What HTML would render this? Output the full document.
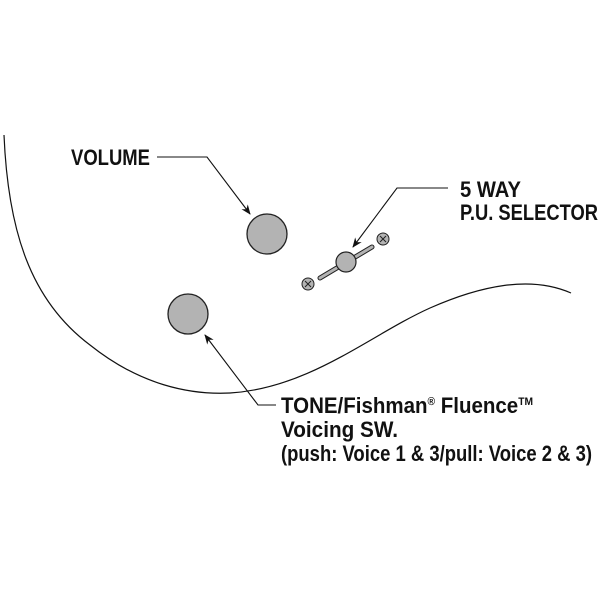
<!DOCTYPE html>
<html><head><style>
body{margin:0;background:#fff;}
svg{display:block}
text{font-family:"Liberation Sans",sans-serif;font-weight:bold;fill:#111;}
</style></head><body>
<svg width="600" height="600" viewBox="0 0 600 600" xmlns="http://www.w3.org/2000/svg">
<defs><marker id="a" markerWidth="10" markerHeight="8" refX="9" refY="4" orient="auto" markerUnits="userSpaceOnUse"><path d="M0,0 L10,4 L0,8 L3,4 Z" fill="#111"/></marker></defs>
<path d="M4,135 C8,230 30,300 90,345 C140,385 190,395 230,393 C310,388 370,335 430,308 C480,286 530,275 571,293" fill="none" stroke="#111" stroke-width="1.2"/>
<circle cx="267" cy="234" r="20" fill="#b3b3b3" stroke="#222" stroke-width="1.3"/>
<circle cx="188" cy="314" r="20" fill="#b3b3b3" stroke="#222" stroke-width="1.3"/>
<line x1="320" y1="278" x2="372" y2="247" stroke="#222" stroke-width="5" stroke-linecap="round"/>
<line x1="320" y1="278" x2="372" y2="247" stroke="#b3b3b3" stroke-width="3" stroke-linecap="round"/>
<circle cx="346" cy="262" r="10" fill="#b3b3b3" stroke="#222" stroke-width="1.2"/>
<g stroke="#222" stroke-width="1"><circle cx="308" cy="284" r="6" fill="#b3b3b3"/><path d="M305,281 l6,6 M311,281 l-6,6"/>
<circle cx="383" cy="239" r="6" fill="#b3b3b3"/><path d="M380,236 l6,6 M386,236 l-6,6"/></g>
<g fill="none" stroke="#111" stroke-width="1.1">
<path d="M157,157 H207 L250,214" marker-end="url(#a)"/>
<path d="M448,188 H397 L353,247" marker-end="url(#a)"/>
<path d="M276,405 H258 L205,335" marker-end="url(#a)"/>
</g>
<text x="71" y="165" font-size="22" textLength="79" lengthAdjust="spacingAndGlyphs">VOLUME</text>
<text x="460" y="197" font-size="22" textLength="61" lengthAdjust="spacingAndGlyphs">5 WAY</text>
<text x="460" y="220" font-size="22" textLength="138" lengthAdjust="spacingAndGlyphs">P.U. SELECTOR</text>
<text x="281" y="413" font-size="22" textLength="252" lengthAdjust="spacingAndGlyphs">TONE/Fishman<tspan font-size="11" dy="-8">®</tspan><tspan dy="8"> Fluence</tspan><tspan font-size="11" dy="-8">TM</tspan></text>
<text x="281" y="437" font-size="22" textLength="117" lengthAdjust="spacingAndGlyphs">Voicing SW.</text>
<text x="281" y="461" font-size="22" textLength="311" lengthAdjust="spacingAndGlyphs">(push: Voice 1 &amp; 3/pull: Voice 2 &amp; 3)</text>
</svg>
</body></html>
